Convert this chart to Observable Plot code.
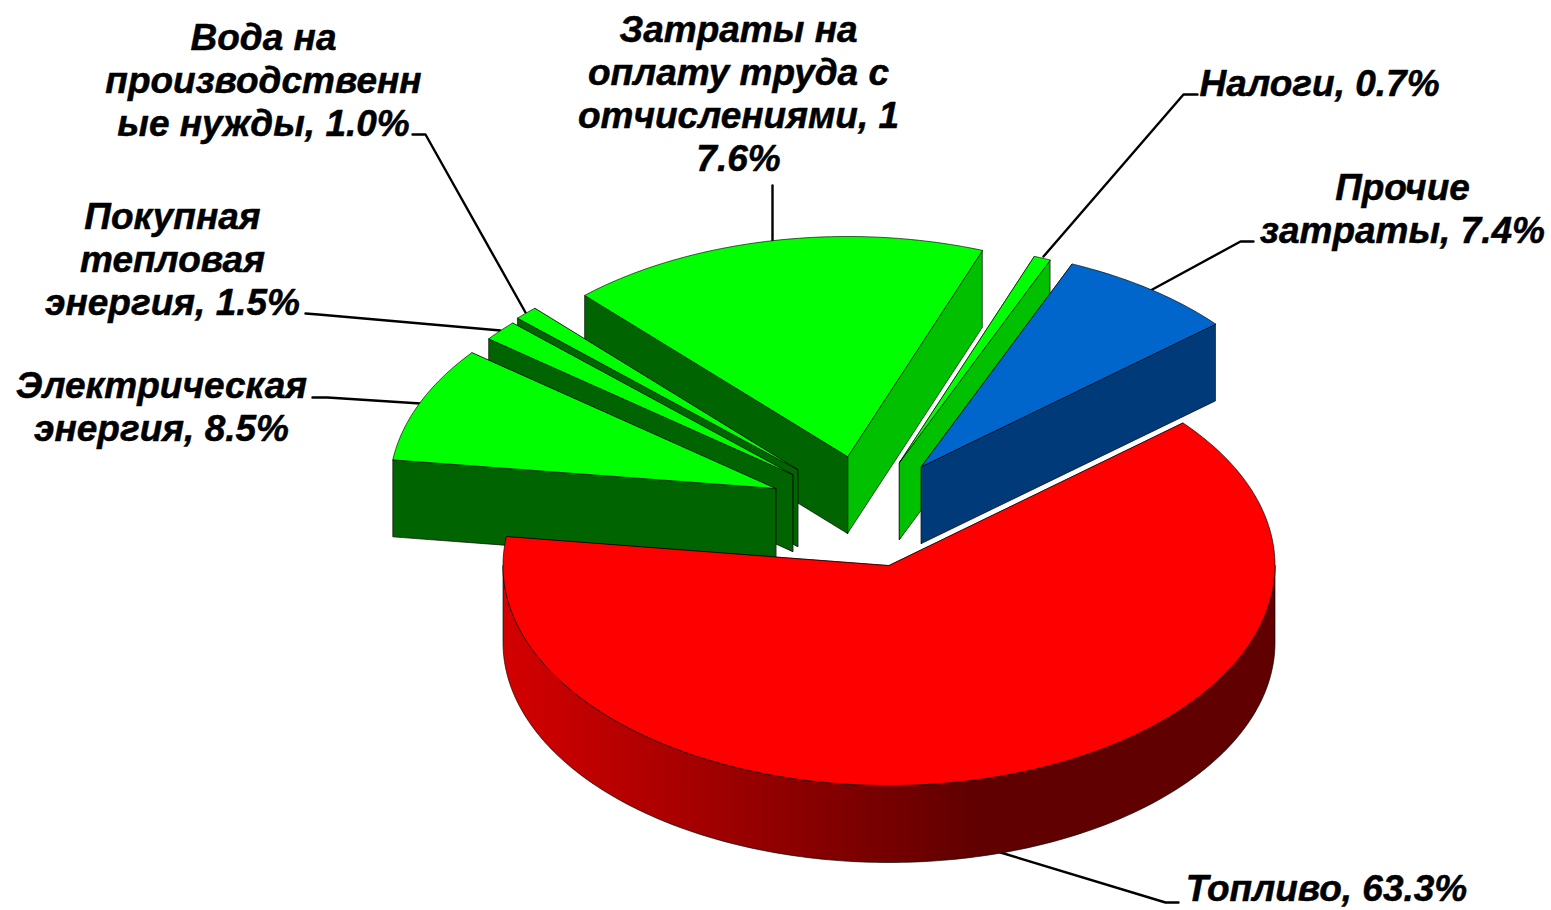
<!DOCTYPE html>
<html>
<head>
<meta charset="utf-8">
<script src="https://cdn.jsdelivr.net/npm/d3@7"></script>
<script src="https://cdn.jsdelivr.net/npm/@observablehq/plot@0.6"></script>
<style>html,body{margin:0;padding:0;background:#fff}svg{display:block}</style>
</head>
<body>
<div id="chart"></div>
<script>
// Data, in pie order (clockwise)
const sliceNames = ["Топливо", "Электрическая энергия", "Покупная тепловая энергия", "Вода на производственные нужды", "Затраты на оплату труда с отчислениями", "Налоги", "Прочие затраты"];
const sliceShares = [63.3, 8.5, 1.5, 1.0, 17.6, 0.7, 7.4];
const sliceLabels = [
  "Топливо, 63.3%",
  "Электрическая\nэнергия, 8.5%",
  "Покупная\nтепловая\nэнергия, 1.5%",
  "Вода на\nпроизводственн\nые нужды, 1.0%",
  "Затраты на\nоплату труда с\nотчислениями, 1\n7.6%",
  "Налоги, 0.7%",
  "Прочие\nзатраты, 7.4%"
];

// Look of each slice
const topColors   = ["#ff0000", "#00ff00", "#00ff00", "#00ff00", "#00ff00", "#00ff00", "#0066cc"];
const startColors = ["#c00000", "#006400", "#006400", "#006400", "#006400", "#00c000", "#003a78"];
const endColors   = ["#c00000", "#00c000", "#00c000", "#00c000", "#00c000", "#00c000", "#003a78"];
// Exploded apex of each slice and paint order
const apexX = [888.5, 775, 792, 797, 847, 899, 921];
const apexY = [565, 488, 474, 469, 456, 462, 466];
const paintOrder = [4, 5, 6, 3, 2, 1, 0];
// Pie projection
const radiusX = 386, radiusY = 220, depth = 77, firstAngle = 49.6;
// Label blocks and leader lines
const labelX = [1326, 161, 172, 263, 738, 1319, 1402];
const labelY = [887, 405, 257.5, 78.5, 92, 82, 207];
const leaderX = [[1178, 1165, 1000], [312, 327, 420], [305, 318, 500], [412, 425, 525], [772, 772, 772], [1197, 1183, 1043], [1253, 1240, 1150]];
const leaderY = [[902, 902, 852], [397, 397, 403], [313, 314, 330], [134, 134, 312], [185, 210, 240], [94, 94, 256], [241, 241, 290]];

// Red wall shading
const wallStops = [[0, "#d40000"], [1, "#600000"]];
const wallX1 = 503, wallX2 = 975;

const rad = d => d * Math.PI / 180;
const rim = (i, a, drop = 0) => ({
  x: apexX[i] + radiusX * Math.sin(rad(a)),
  y: apexY[i] - radiusY * Math.cos(rad(a)) + drop
});
const arc = (i, a0, a1, drop = 0) => d3.range(0, 1.0001, 1 / Math.max(2, Math.ceil(Math.abs(a1 - a0)))).map(t => rim(i, a0 + (a1 - a0) * t, drop));

// angles from the shares
let cursor = firstAngle;
const angles = sliceShares.map(s => { const a = [cursor, cursor + s * 3.6]; cursor = a[1]; return a; });

const edge = {stroke: "#000", strokeWidth: 0.8, strokeOpacity: 0.8, curve: "linear-closed", x: "x", y: "y"};
const marks = [];

// gradient for the red wall
marks.push(() => {
  const defs = d3.create("svg:defs");
  const g = defs.append("svg:linearGradient").attr("id", "redWall").attr("gradientUnits", "userSpaceOnUse")
    .attr("x1", wallX1).attr("x2", wallX2).attr("y1", 0).attr("y2", 0);
  wallStops.forEach(([o, c]) => g.append("svg:stop").attr("offset", o).attr("stop-color", c));
  return defs.node();
});

// leaders
leaderX.forEach((xs, i) => {
  marks.push(Plot.line(xs.map((x, j) => ({x, y: leaderY[i][j]})), {x: "x", y: "y", stroke: "#000", strokeWidth: 2.4}));
});

// slices
paintOrder.forEach(i => {
  const [a0, a1] = angles[i];
  const apex = {x: apexX[i], y: apexY[i]};
  const apexLow = {x: apexX[i], y: apexY[i] + depth};
  const face = (a, color) => Plot.line(
    [apex, rim(i, a), rim(i, a, depth), apexLow],
    {...edge, fill: color}
  );
  // the face turned away from the viewer goes first
  if (a0 % 360 < 180) {
    marks.push(face(a0, startColors[i]));
    marks.push(face(a1, endColors[i]));
  } else {
    marks.push(face(a1, endColors[i]));
    marks.push(face(a0, startColors[i]));
  }
  if (a1 - a0 > 100) {
    const wallTop = arc(i, 90, 270);
    const wallBottom = arc(i, 270, 90, depth);
    marks.push(Plot.line([...wallTop, ...wallBottom], {...edge, fill: "url(#redWall)"}));
  }
  marks.push(Plot.line([apex, ...arc(i, a0, a1)], {...edge, fill: topColors[i]}));
});

// labels
marks.push(Plot.text(sliceLabels, {
  x: (d, i) => labelX[i],
  y: (d, i) => labelY[i],
  text: d => d,
  textAnchor: "middle",
  lineAnchor: "middle",
  lineHeight: 1.16,
  fontFamily: "Liberation Sans",
  fontWeight: "bold",
  fontStyle: "italic",
  fontSize: 37,
  fill: "#000",
  stroke: "#000",
  strokeWidth: 0.5
}));

const chart = Plot.plot({
  width: 1551, height: 910,
  margin: 0,
  x: {domain: [0, 1551], range: [0, 1551], axis: null},
  y: {domain: [0, 910], range: [0, 910], axis: null},
  marks
});
document.getElementById("chart").append(chart);
</script>
</body>
</html>
